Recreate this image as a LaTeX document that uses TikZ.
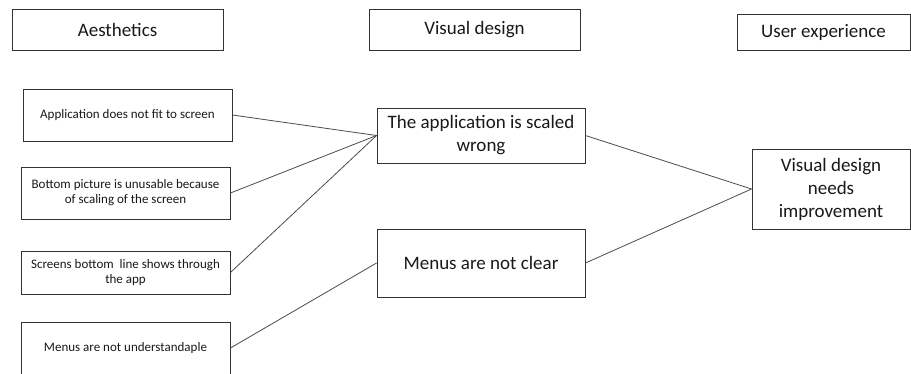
\documentclass[tikz,border=0pt]{standalone}
\usepackage{fontspec}
\setmainfont{Carlito}
\begin{document}
\begin{tikzpicture}[x=1pt,y=-1pt,
  box/.style={draw=black!80, line width=0.9pt, inner sep=0pt, align=center, text=black!90},
  big/.style={box, font=\fontsize{19}{23}\selectfont},
  small/.style={box, font=\fontsize{13}{15}\selectfont},
  link/.style={draw=black!70, line width=0.8pt}]
\useasboundingbox (0,0) rectangle (911,373);
\fill[white] (0,0) rectangle (911,373);

% column headers
\node[big, minimum width=211pt, minimum height=41pt] (aes) at (117.5,29.5) {Aesthetics};
\node[big, minimum width=211pt, minimum height=41pt] (vis) at (474.5,29.5) {Visual design};
\node[big, minimum width=173pt, minimum height=36pt] (ux) at (823.5,32) {User experience};

% aesthetics findings
\node[small, minimum width=209pt, minimum height=52pt] (a1) at (127.5,115) {Application does not fit to screen};
\node[small, minimum width=209pt, minimum height=52pt] (a2) at (125.5,193) {Bottom picture is unusable because\\of scaling of the screen};
\node[small, minimum width=209pt, minimum height=43pt] (a3) at (125.5,272.5) {Screens bottom\ \ line shows through\\the app};
\node[small, minimum width=209pt, minimum height=52pt] (a4) at (125.5,348) {Menus are not understandaple};

% visual design issues
\node[big, minimum width=208pt, minimum height=55pt] (sw) at (481,135.5) {The application is scaled\\wrong};
\node[big, minimum width=208pt, minimum height=68pt] (mc) at (481,263) {Menus are not clear};

% user experience conclusion
\node[big, minimum width=158pt, minimum height=80pt] (vd) at (831,189) {Visual design\\needs\\improvement};

% connectors
\draw[link] (a1.east) -- (sw.west);
\draw[link] (a2.east) -- (sw.west);
\draw[link] (a3.east) -- (sw.west);
\draw[link] (a4.east) -- (mc.west);
\draw[link] (sw.east) -- (vd.west);
\draw[link] (mc.east) -- (vd.west);
\end{tikzpicture}
\end{document}
